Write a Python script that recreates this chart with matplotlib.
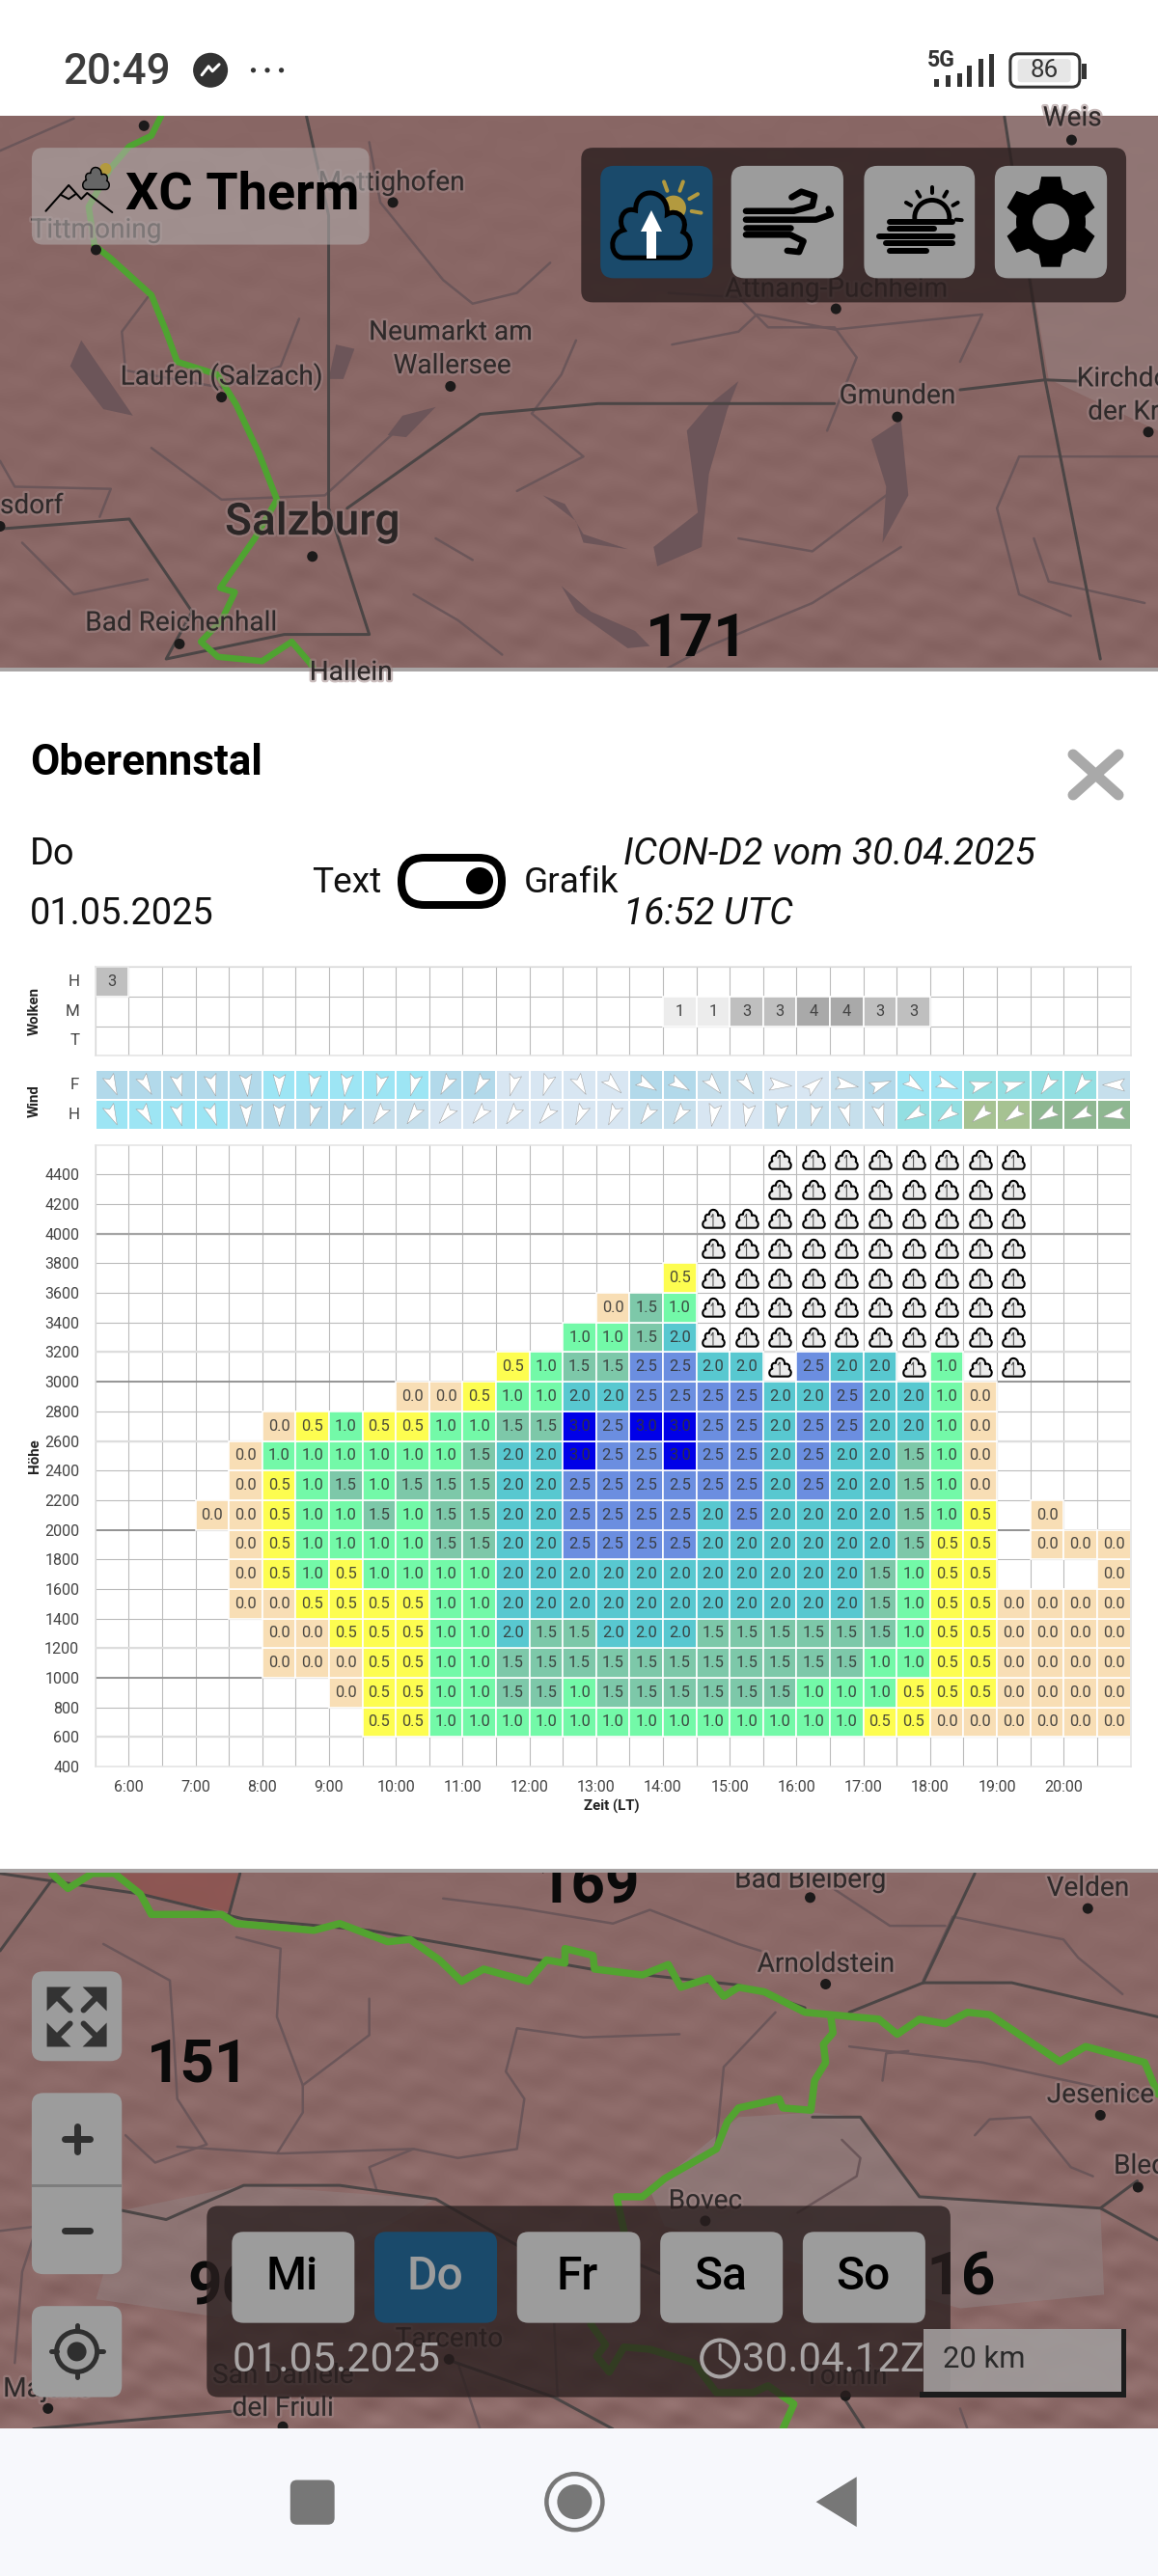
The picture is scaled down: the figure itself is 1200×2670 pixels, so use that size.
import numpy as np
import matplotlib
matplotlib.use("Agg")
import matplotlib.pyplot as plt
from matplotlib.colors import ListedColormap, BoundaryNorm
from matplotlib.patches import FancyBboxPatch, Rectangle, Circle, Polygon, PathPatch
from matplotlib.path import Path
from matplotlib.transforms import Affine2D
import matplotlib.patheffects as pe

plt.rcParams['font.family'] = ['Roboto', 'DejaVu Sans']

# ---------------- DATA ----------------
N = None
C = 'c'   # cloud symbol
hour_ticks = [6, 7, 8, 9, 10, 11, 12, 13, 14, 15, 16, 17, 18, 19, 20]
hour_labels = ['%d:00' % h for h in hour_ticks]
height_ticks = list(range(400, 4401, 200))

cloud_rows = ['H', 'M', 'T']
cloud_H = [3] + [0] * 30
cloud_M = [0] * 17 + [1, 1, 3, 3, 4, 4, 3, 3] + [0] * 6
cloud_T = [0] * 31
cloud_colors = {1: '#ececec', 3: '#bfbfbf', 4: '#a9a9a9'}

wind_rows = ['F', 'H']
wind_F_level = [2, 2, 2, 2, 2, 3, 3, 3, 3, 3, 2, 2, 0, 0, 0, 0, 2, 2, 1, 1, 0, 0, 1, 2, 3, 3, 4, 4, 4, 4, 1]
wind_H_level = [3, 3, 3, 3, 2, 2, 2, 2, 1, 1, 0, 0, 0, 0, 0, 0, 1, 1, 0, 0, 1, 1, 1, 1, 4, 4, 5, 5, 6, 6, 6]
wind_colors = ['#d8e6f2', '#c6dfec', '#b2d9ea', '#9de5f4', '#93dfe2', '#a6c292', '#8eb791']
wind_F_heading = [155, 150, 165, 165, 175, 180, 190, 187, 195, 195, 210, 210, 195, 198, 150, 135, 120, 120, 140, 145, 95, 50, 100, 70, 125, 110, 75, 75, 215, 215, 270]
wind_H_heading = [155, 150, 165, 160, 178, 180, 195, 205, 215, 215, 220, 220, 215, 220, 205, 205, 215, 215, 190, 190, 190, 195, 165, 165, 240, 235, 230, 235, 240, 245, 260]

lift_heights = list(range(600, 4401, 200))
lift_600 = [N]*8 + [.5, .5] + [1]*13 + [.5, .5] + [0]*6
lift_800 = [N]*7 + [0, .5, .5, 1, 1, 1.5, 1.5, 1] + [1.5]*6 + [1, 1, 1, .5, .5, .5, 0, 0, 0, 0]
lift_1000 = [N]*5 + [0, 0, 0, .5, .5, 1, 1] + [1.5]*11 + [1, 1, .5, .5, 0, 0, 0, 0]
lift_1200 = [N]*5 + [0, 0, .5, .5, .5, 1, 1, 2, 1.5, 1.5, 2, 2, 2] + [1.5]*6 + [1, .5, .5, 0, 0, 0, 0]
lift_1400 = [N]*4 + [0, 0, .5, .5, .5, .5, 1, 1] + [2]*11 + [1.5, 1, .5, .5, 0, 0, 0, 0]
lift_1600 = [N]*4 + [0, .5, 1, .5, 1, 1, 1, 1] + [2]*11 + [1.5, 1, .5, .5, N, N, N, 0]
lift_1800 = [N]*4 + [0, .5, 1, 1, 1, 1, 1.5, 1.5, 2, 2, 2.5, 2.5, 2.5, 2.5] + [2]*6 + [1.5, .5, .5, N, 0, 0, 0]
lift_2000 = [N]*3 + [0, 0, .5, 1, 1, 1.5, 1, 1.5, 1.5, 2, 2, 2.5, 2.5, 2.5, 2.5, 2, 2.5, 2, 2, 2, 2, 1.5, 1, .5, N, 0, N, N]
lift_2200 = [N]*4 + [0, .5, 1, 1.5, 1, 1.5, 1.5, 1.5, 2, 2] + [2.5]*6 + [2, 2.5, 2, 2, 1.5, 1, 0] + [N]*4
lift_2400 = [N]*4 + [0, 1, 1, 1, 1, 1, 1, 1.5, 2, 2, 3, 2.5, 2.5, 3, 2.5, 2.5, 2, 2.5, 2, 2, 1.5, 1, 0] + [N]*4
lift_2600 = [N]*5 + [0, .5, 1, .5, .5, 1, 1, 1.5, 1.5, 3, 2.5, 3, 3, 2.5, 2.5, 2, 2.5, 2.5, 2, 2, 1, 0] + [N]*4
lift_2800 = [N]*9 + [0, 0, .5, 1, 1, 2, 2, 2.5, 2.5, 2.5, 2.5, 2, 2, 2.5, 2, 2, 1, 0] + [N]*4
lift_3000 = [N]*12 + [.5, 1, 1.5, 1.5, 2.5, 2.5, 2, 2, C, 2.5, 2, 2, C, 1, C, C] + [N]*3
lift_3200 = [N]*14 + [1, 1, 1.5, 2] + [C]*10 + [N]*3
lift_3400 = [N]*15 + [0, 1.5, 1] + [C]*10 + [N]*3
lift_3600 = [N]*17 + [.5] + [C]*10 + [N]*3
lift_3800 = [N]*18 + [C]*10 + [N]*3
lift_4000 = [N]*18 + [C]*10 + [N]*3
lift_4200 = [N]*20 + [C]*8 + [N]*3
lift_4400 = [N]*20 + [C]*8 + [N]*3
lift_table = [lift_600, lift_800, lift_1000, lift_1200, lift_1400, lift_1600, lift_1800, lift_2000,
              lift_2200, lift_2400, lift_2600, lift_2800, lift_3000, lift_3200, lift_3400, lift_3600,
              lift_3800, lift_4000, lift_4200, lift_4400]
lift_colors = {0: '#f8deb5', .5: '#fdfd50', 1: '#73f9a8', 1.5: '#7dc8a9', 2: '#58c8d0', 2.5: '#6b8ee0', 3: '#0000e8'}

# ---------------- FIGURE ----------------
W, H = 1200, 2670
fig = plt.figure(figsize=(W / 100, H / 100), dpi=100, facecolor='white')
PX = 0.72  # points per pixel

def make_axes(x0, y0, x1, y1, z):
    return fig.add_axes([x0 / W, 1 - y1 / H, (x1 - x0) / W, (y1 - y0) / H], zorder=z)

bg = make_axes(0, 0, W, H, 0)
fg = make_axes(0, 0, W, H, 5)
fg.patch.set_alpha(0)

def Z1(pts):
    return [(x / 1.3067, y / 2.24) for x, y in pts]

def Z2(pts):
    return [(x / 1.3067, 1930 + y * 0.472) for x, y in pts]

def shade(ax, y0, y1, base, amp):
    yy, xx = np.mgrid[y0:y1:2, 0:W:2]
    t = (np.sin(xx * 0.07 + yy * 0.13) + np.sin(xx * 0.031 - yy * 0.19 + 1.0)
         + 0.7 * np.sin(xx * 0.15 - yy * 0.09 + 2.0) * np.sin(yy * 0.21))
    t = t * np.clip((yy - y0) / (y1 - y0) * 0.9 + 0.2, 0, 1.2)
    rgb = np.clip(np.dstack([(base[i] + amp * t) / 255.0 for i in range(3)]), 0, 1)
    ax.imshow(rgb, extent=(0, W, y1, y0), aspect='auto', interpolation='bilinear', zorder=0)

shade(bg, 120, 694, (137, 103, 101), 2.2)
shade(bg, 1941, 2517, (139, 105, 103), 4.0)
bg.set_xlim(0, W); bg.set_ylim(H, 0); bg.axis('off')
fg.set_xlim(0, W); fg.set_ylim(H, 0); fg.axis('off')

def line(ax, pts, color, lw, z=2, alpha=1.0):
    xs, ys = zip(*pts)
    ax.plot(xs, ys, color=color, lw=lw * PX, zorder=z, alpha=alpha, solid_capstyle='round', solid_joinstyle='round')

def poly(ax, pts, color, z=1.5, alpha=1.0):
    ax.add_patch(Polygon(pts, closed=True, fc=color, ec='none', zorder=z, alpha=alpha))

def rbox(ax, x0, y0, x1, y1, r, color, z=3, alpha=1.0, ec='none', lw=0):
    ax.add_patch(FancyBboxPatch((x0 + r, y0 + r), x1 - x0 - 2 * r, y1 - y0 - 2 * r,
                                boxstyle='round,pad=%f,rounding_size=%f' % (r, r),
                                fc=color, ec=ec, lw=lw, zorder=z, alpha=alpha))

def txt(ax, x, y, s, px, color='#222222', ha='center', va='center', weight='normal', z=4, halo=False, **kw):
    t = ax.text(x, y, s, fontsize=px * PX, color=color, ha=ha, va=va, fontweight=weight, zorder=z, clip_on=True, **kw)
    if halo:
        t.set_path_effects([pe.withStroke(linewidth=3.5, foreground=(0.62, 0.52, 0.52, 0.55))])
    return t

ROAD = '#4b4545'
BORD = '#6b5659'
LAKE = '#6c5559'
GREEN = '#4fa331'
LABEL_PX = 28

# ---- map 1 ----
m1_thin = [
    [(0, 350), (100, 275)], [(500, 330), (515, 470), (600, 650), (640, 705), (700, 680), (745, 610)],
    [(405, 740), (380, 850), (300, 900), (170, 860), (165, 770), (200, 690)],
    [(0, 1070), (20, 1130), (150, 1135), (135, 1200)], [(205, 1040), (300, 1160), (440, 1150), (530, 1010)],
    [(780, 790), (760, 870), (720, 960), (790, 1060), (700, 1140)],
    [(905, 680), (1000, 690), (1040, 760), (1130, 760), (1160, 830), (1120, 1000)],
    [(910, 800), (1000, 770), (1025, 730), (1130, 765), (1330, 730), (1300, 840)],
    [(1570, 1060), (1380, 1060), (1350, 1180), (1380, 1380), (1450, 1430)],
    [(1220, 1270), (1100, 1400), (960, 1500), (900, 1555)], [(560, 1380), (620, 1440), (680, 1520)],
    [(1400, 1250), (1420, 1350), (1550, 1400)], [(30, 1260), (100, 1380), (200, 1345)],
    [(590, 1250), (640, 1300)], [(1000, 1250), (1100, 1280), (1200, 1150)],
]
for p in m1_thin:
    line(bg, Z1(p), BORD, 2.5, z=1.8)
for p in [[(1000, 885), (960, 940), (930, 1000), (945, 1190), (885, 1270), (890, 1315), (950, 1270), (960, 1100), (985, 950)],
          [(1220, 975), (1180, 1020), (1200, 1130), (1195, 1260), (1230, 1150)],
          [(735, 1150), (780, 1210), (790, 1260), (850, 1275), (790, 1240), (765, 1170)],
          [(590, 945), (545, 965), (525, 1010), (550, 1015)],
          [(760, 1360), (780, 1420), (850, 1505), (880, 1500), (860, 1465), (800, 1420)],
          [(110, 790), (95, 850), (140, 950), (180, 965), (150, 890)],
          [(455, 800), (480, 810), (465, 880), (445, 880)]]:
    poly(bg, Z1(p), LAKE)
poly(bg, Z1([(1360, 270), (1568, 270), (1568, 1000), (1420, 880)]), '#96807f', z=1.2, alpha=0.6)
for p in [[(415, 270), (445, 500), (445, 1180), (500, 1473), (385, 1473), (225, 1530), (260, 1420), (175, 1205), (0, 1228)],
          [(470, 1180), (650, 962), (810, 937), (1130, 937)], [(1300, 905), (1415, 882), (1460, 885)],
          [(1360, 270), (1415, 880), (1490, 1530)]]:
    line(bg, Z1(p), ROAD, 3, z=2)
line(bg, Z1([(218, 270), (205, 315), (175, 340), (150, 390), (120, 480), (128, 570), (150, 600), (205, 685), (225, 770), (240, 840),
             (295, 870), (320, 940), (350, 1050), (375, 1160), (345, 1250), (298, 1365), (318, 1375), (300, 1440), (272, 1490),
             (295, 1525), (355, 1535), (395, 1490), (420, 1540), (425, 1555)]), GREEN, 6.5, z=2.5)
for x, y in Z1([(195, 292), (130, 580), (532, 470), (1132, 717), (300, 922), (610, 897), (1215, 968), (1555, 1003), (423, 1292), (243, 1495), (1451, 325), (0, 1222)]):
    bg.add_patch(Circle((x, y), 5.5, fc='#1c1a1a', ec='none', zorder=3))
m1_labels = [('Mattighofen', 530, 425), ('Tittmoning', 130, 535), ('Attnang-Puchheim', 1132, 672), ('Neumarkt am', 610, 772),
             ('Wallersee', 612, 850), ('Laufen (Salzach)', 300, 875), ('Gmunden', 1215, 920),
             ('Bad Reichenhall', 245, 1447), ('Hallein', 475, 1562), ('Weis', 1452, 275)]
for s, x, y in m1_labels:
    txt(bg, x / 1.3067, y / 2.24, s, LABEL_PX, color='#2f2a2a', halo=True)
txt(bg, 1458 / 1.3067, 880 / 2.24, 'Kirchdorf', LABEL_PX, color='#2f2a2a', ha='left', halo=True)
txt(bg, 1473 / 1.3067, 957 / 2.24, 'der Krems', LABEL_PX, color='#2f2a2a', ha='left', halo=True)
txt(bg, 0, 1175 / 2.24, 'sdorf', LABEL_PX, color='#2f2a2a', ha='left', halo=True)
txt(bg, 423 / 1.3067, 1212 / 2.24, 'Salzburg', 46, color='#2b2626', weight='medium', halo=True)
txt(bg, 722, 663, '171', 62, color='#0a0a0a', weight='bold')
bg.add_patch(Rectangle((0, 0), W, 120, fc='white', ec='none', zorder=3.5))

def cloud_path():
    v = [(-0.7, -0.8), (0.7, -0.8),
         (1.0, -0.8), (1.1, -0.3), (0.8, -0.15),
         (0.95, 0.2), (0.65, 0.45), (0.4, 0.3),
         (0.45, 0.95), (-0.4, 1.05), (-0.4, 0.4),
         (-0.75, 0.5), (-0.85, 0.1), (-0.7, -0.1),
         (-1.1, -0.2), (-1.05, -0.8), (-0.7, -0.8), (-0.7, -0.8)]
    c = [Path.MOVETO, Path.LINETO] + [Path.CURVE4] * 15 + [Path.CLOSEPOLY]
    return Path(v, c)

CLOUD = cloud_path()
ARROW_UP = Path([(0, -0.55), (0, 0.55), (-0.18, 0.28), (0, 0.55)],
                [Path.MOVETO, Path.LINETO, Path.MOVETO, Path.LINETO])

def icon_cloud(ax, cx, cy, s, fc, lw, z):
    p = Affine2D().scale(s).translate(cx, cy).transform_path(Path(CLOUD.vertices * [1, -1], CLOUD.codes))
    ax.add_patch(PathPatch(p, fc=fc, ec='black', lw=lw * PX, zorder=z))

# logo
rbox(fg, 43 / 1.3067, 343 / 2.24, 500 / 1.3067, 568 / 2.24, 12, '#b0aaaa', z=1, alpha=0.6)
txt(fg, 170 / 1.3067, 452 / 2.24, 'XC Therm', 54, color='black', ha='left', weight='bold')
line(fg, Z1([(62, 490), (93, 430), (110, 462), (118, 448), (152, 493)]), 'black', 2)
line(fg, Z1([(82, 452), (93, 462), (103, 450)]), 'black', 2)
fg.add_patch(Circle((143 / 1.3067, 392 / 2.24), 6, fc='#b39a3f', ec='none', zorder=2.9))
icon_cloud(fg, 130 / 1.3067, 415 / 2.24, 14, '#666666', 1.5, 3)

# toolbar
rbox(fg, 787 / 1.3067, 343 / 2.24, 1525 / 1.3067, 702 / 2.24, 12, '#2c2020', z=1, alpha=0.82)
for xa, xb, col in [(813, 965, '#1a4a6b'), (990, 1142, '#9c9c9c'), (1170, 1320, '#9c9c9c'), (1347, 1499, '#9c9c9c')]:
    rbox(fg, xa / 1.3067, 385 / 2.24, xb / 1.3067, 646 / 2.24, 14, col, z=2)

# weather buttons
sx, sy = (912 / 1.3067, 483 / 2.24)
fg.add_patch(Circle((sx, sy), 13, fc='#b39a3f', ec='none', zorder=3))
for a in range(-60, 140, 40):
    r = np.deg2rad(a)
    line(fg, [(sx + 19 * np.sin(r), sy - 19 * np.cos(r)), (sx + 29 * np.sin(r), sy - 29 * np.cos(r))], '#b39a3f', 4, z=3)
icon_cloud(fg, 882 / 1.3067, 525 / 2.24, 41, '#1a4a6b', 5, 3.2)
poly(fg, [(675, 218), (664, 240), (670, 240), (670, 268), (680, 268), (680, 240), (686, 240)], 'white', z=3.5)
for pts in [[(1010, 490), (1075, 490), (1100, 478), (1103, 455), (1085, 445), (1072, 458)],
            [(1010, 510), (1105, 510), (1125, 498), (1122, 485)],
            [(1010, 528), (1070, 528)],
            [(1010, 545), (1070, 545), (1088, 560), (1082, 585), (1066, 582)]]:
    line(fg, Z1(pts), 'black', 6.5, z=3)
# sun and fog
cx, cy = 1262 / 1.3067, 505 / 2.24
fg.add_patch(Circle((cx, cy), 18, fc='none', ec='black', lw=3.5, zorder=3))
fg.add_patch(Rectangle((1190 / 1.3067, 515 / 2.24), 82, 40, fc='#9c9c9c', ec='none', zorder=3.05))
for xa, xb, yy in [(1205, 1290, 515), (1190, 1290, 548), (1200, 1290, 565), (1205, 1255, 583), (1205, 1265, 532)]:
    line(fg, Z1([(xa, yy), (xb, yy)]), 'black', 6, z=3.1)
for a in [-60, -30, 0, 30, 60, 95]:
    r = np.deg2rad(a)
    line(fg, [(cx + 25 * np.sin(r), cy - 25 * np.cos(r)), (cx + 31 * np.sin(r), cy - 31 * np.cos(r))], 'black', 4, z=3.1)
# gear
gx, gy = 1423 / 1.3067, 515 / 2.24
for a in np.deg2rad(np.arange(0, 360, 60)):
    fg.add_patch(Polygon([(gx + 30 * np.sin(a + d), gy - 30 * np.cos(a + d)) for d in (-0.45, 0.45)]
                         + [(gx + 47 * np.sin(a + d), gy - 47 * np.cos(a + d)) for d in (0.2, -0.2)], fc='black', ec='black', zorder=3))
fg.add_patch(Circle((gx, gy), 36, fc='black', ec='none', zorder=3))
fg.add_patch(Circle((gx, gy), 19, fc='#9c9c9c', ec='none', zorder=3.2))

# status bar
txt(bg, 65, 75, '20:49', 44, color='#3c3c3c', ha='left', z=4, weight='medium')
msg = (285 / 1.3067, 163 / 2.24)
bg.add_patch(Circle(msg, 18, fc='#333333', ec='none', zorder=4))
line(bg, [(msg[0] - 9, msg[1] + 5), (msg[0] - 2, msg[1] - 4), (msg[0] + 2, msg[1] + 1), (msg[0] + 9, msg[1] - 6)], 'white', 3, z=4.2)
for dx in (343, 362, 381):
    bg.add_patch(Circle((dx / 1.3067, 163 / 2.24), 2.6, fc='#333333', ec='none', zorder=4))
txt(bg, 1274 / 1.3067, 140 / 2.24, '5G', 23, color='#333333', weight='bold')
for xb, hb in zip([1268, 1284, 1299, 1313, 1328, 1343], [8, 12, 14, 22, 29, 34]):
    bg.add_patch(Rectangle((xb / 1.3067 - 2.5, 201 / 2.24 - hb), 5, hb, fc='#333333', ec='none', zorder=4))
rbox(bg, 1368 / 1.3067, 125 / 2.24, 1462 / 1.3067, 202 / 2.24, 8, 'white', z=4, ec='#333333', lw=3 * PX)
rbox(bg, 1378 / 1.3067, 137 / 2.24, 1450 / 1.3067, 191 / 2.24, 4, '#e6e6e6', z=4.1)
txt(bg, 1414 / 1.3067, 164 / 2.24, '86', 26, color='#333333', z=4.2)
bg.add_patch(Rectangle((1465 / 1.3067, 148 / 2.24), 5, 16, fc='#333333', ec='none', zorder=4))

# sheet
bg.add_patch(Rectangle((0, 694), W, 1245, fc='white', ec='none', zorder=3.6))
bg.add_patch(Rectangle((0, 692), W, 4, fc='#a9a5a5', ec='none', zorder=3.7))
bg.add_patch(Rectangle((0, 1937), W, 4, fc='#a9a5a5', ec='none', zorder=3.7))
txt(bg, 31, 791, 'Oberennstal', 44, color='black', ha='left', weight='bold', z=4)
txt(bg, 31, 885, 'Do', 38, color='#111111', ha='left', z=4)
txt(bg, 31, 948, '01.05.2025', 38, color='#111111', ha='left', z=4)
txt(bg, 323, 915, 'Text', 37, color='#111111', ha='left', z=4)
txt(bg, 543, 915, 'Grafik', 37, color='#111111', ha='left', z=4)
txt(bg, 646, 885, 'ICON-D2 vom 30.04.2025', 39, color='#111111', ha='left', style='italic', z=4)
txt(bg, 646, 948, '16:52 UTC', 39, color='#111111', ha='left', style='italic', z=4)
rbox(bg, 416, 889, 520, 938, 24, 'white', z=4, ec='black', lw=8 * PX)
bg.add_patch(Circle((497, 913), 14, fc='black', ec='none', zorder=4.2))
for a, b in [((1112, 782), (1159, 824)), ((1159, 782), (1112, 824))]:
    line(bg, [a, b], '#a9a9a9', 11, z=4)

# ---- map 2 ----
poly(bg, Z2([(155, 25), (325, 25), (310, 110), (200, 75)]), '#8e4f4b', z=1.2, alpha=0.7)
poly(bg, Z2([(1000, 560), (1100, 550), (1165, 560), (1245, 735), (1490, 760), (1495, 950), (1300, 980), (900, 800), (880, 720)]), '#908080', z=1.2, alpha=0.6)
poly(bg, Z2([(165, 765), (330, 710), (590, 740), (300, 1000), (130, 960)]), '#908080', z=1.2, alpha=0.5)
m2_thin = [
    [(140, 180), (230, 260), (235, 380), (240, 520), (280, 620), (210, 660), (170, 600)],
    [(320, 165), (380, 190), (375, 340), (410, 490), (410, 550), (375, 640)],
    [(500, 300), (500, 380), (410, 490)], [(920, 378), (790, 385), (700, 365), (685, 460), (710, 520), (700, 630), (620, 650), (560, 630), (380, 640), (240, 625)],
    [(600, 80), (700, 100), (830, 135), (880, 105), (1000, 180), (1030, 195)], [(1150, 405), (1330, 440), (1560, 520)],
    [(1050, 330), (980, 450), (970, 620)], [(1320, 600), (1340, 565), (1395, 560), (1450, 670), (1480, 690)],
    [(1130, 60), (1205, 140), (1280, 140)], [(1250, 260), (1290, 120), (1440, 170), (1460, 210), (1520, 290)],
    [(1195, 480), (1200, 420), (1230, 415)], [(510, 720), (500, 670), (560, 630)], [(1140, 610), (1165, 650), (1160, 690), (1080, 770)],
    [(0, 810), (50, 800), (30, 900), (20, 1100)], [(620, 1100), (650, 1245)], [(750, 1000), (755, 1175)], [(1310, 1245), (1300, 1200)],
]
for p in m2_thin:
    line(bg, Z2(p), BORD, 2.5, z=1.8)
for p in [[(0, 25), (190, 70), (330, 125), (500, 150), (800, 235), (1000, 270), (1090, 320)], [(325, 25), (310, 115)],
          [(1250, 265), (1370, 265), (1568, 340)], [(1250, 265), (1320, 25)], [(1250, 265), (1150, 330)], [(0, 195), (70, 40)],
          [(1100, 560), (1165, 560), (1245, 735), (1490, 760), (1568, 830)], [(1490, 760), (1540, 700)],
          [(165, 765), (225, 785), (330, 710), (460, 710), (590, 740), (720, 860), (860, 880), (960, 950)], [(45, 1245), (320, 1205)],
          [(610, 1095), (750, 1175), (830, 1245)], [(1140, 1170), (1170, 1245)]]:
    line(bg, Z2(p), ROAD, 3, z=2)
line(bg, Z2([(70, 25), (92, 58), (125, 25), (155, 25), (190, 70), (205, 115), (300, 115), (320, 135), (425, 150), (460, 135), (525, 175), (555, 170),
             (595, 215), (625, 262), (655, 235), (715, 262), (740, 215), (765, 222), (765, 190), (803, 205), (805, 235), (870, 248), (905, 225),
             (922, 275), (960, 255), (980, 295), (1000, 275), (1035, 285), (1090, 330), (1190, 345), (1215, 378), (1245, 345), (1280, 355),
             (1310, 330), (1340, 335), (1435, 438), (1470, 405), (1550, 440), (1568, 510)]), '#52a330', 7.5, z=2.5)
line(bg, Z2([(1125, 340), (1128, 375), (1115, 400), (1118, 440), (1103, 480), (1098, 545), (1060, 540), (1055, 520), (1000, 540), (985, 570), (970, 630),
             (900, 695), (870, 735), (835, 735), (845, 810), (800, 1015), (820, 1060), (808, 1085), (825, 1120), (845, 1065), (880, 1070), (940, 1100),
             (970, 1165), (1020, 1165), (1040, 1150), (1075, 1190), (1060, 1245)]), '#52a330', 7.5, z=2.5)
for x, y in Z2([(1097, 78), (1473, 102), (1118, 268), (1490, 556), (1541, 714), (955, 788), (608, 1092), (383, 1240), (1145, 1172), (65, 1200)]):
    bg.add_patch(Circle((x, y), 5.5, fc='#1c1a1a', ec='none', zorder=3))
for s, x, y in [('Bad Bleiberg', 1097, 40), ('Velden', 1473, 58), ('Arnoldstein', 1118, 225), ('Jesenice', 1490, 512), ('Bovec', 955, 745),
                ('Tarcento', 608, 1048), ('San Daniele', 383, 1128), ('del Friuli', 383, 1200), ('Tolmin', 1145, 1130), ('Majano', 65, 1158)]:
    x2, y2 = Z2([(x, y)])[0]
    txt(bg, x2, y2, s, LABEL_PX, color='#2f2a2a', halo=True, z=3)
txt(bg, 1508 / 1.3067, Z2([(0, 668)])[0][1], 'Bled', LABEL_PX, color='#2f2a2a', ha='left', halo=True, z=3)
for s, x, y in [('169', 797, 55), ('151', 268, 447), ('96', 300, 935), ('116', 1280, 915)]:
    x2, y2 = Z2([(x, y)])[0]
    txt(bg, x2, y2, s, 62, color='#0a0a0a', weight='bold', z=3)
bg.add_patch(Rectangle((0, 2517), W, 153, fc='#f7f8fc', ec='none', zorder=3.6))
bg.add_patch(Rectangle((0, 1930), W, 8, fc='white', ec='none', zorder=3.6))

BTN = '#9c9c9c'
def zx(x): return x / 1.3067
def zy(y): return 1930 + y * 0.472

rbox(fg, zx(43), zy(240), zx(165), zy(437), 12, BTN)
rbox(fg, zx(43), zy(507), zx(165), zy(905), 12, BTN)
rbox(fg, zx(43), zy(975), zx(165), zy(1175), 12, BTN)
fg.add_patch(Rectangle((zx(43), zy(708)), zx(165) - zx(43), 2.5, fc='#7d7d7d', ec='none', zorder=3.2))
bcx, bcy = zx(104), zy(340)
for sxx, syy in [(-1, -1), (1, -1), (-1, 1), (1, 1)]:
    poly(fg, [(bcx + sxx * 31, bcy + syy * 31), (bcx + sxx * 6, bcy + syy * 31), (bcx + sxx * 31, bcy + syy * 6)], '#333333', z=3.5)
    line(fg, [(bcx + sxx * 24, bcy + syy * 24), (bcx + sxx * 7, bcy + syy * 7)], '#333333', 6, z=3.5)
line(fg, [(bcx - 13, zy(607)), (bcx + 13, zy(607))], '#2f2f2f', 7, z=3.5)
line(fg, [(bcx, zy(607) - 13), (bcx, zy(607) + 13)], '#2f2f2f', 7, z=3.5)
line(fg, [(bcx - 13, zy(810)), (bcx + 13, zy(810))], '#2f2f2f', 7, z=3.5)
fg.add_patch(Circle((bcx, zy(1075)), 21, fc='none', ec='#2f2f2f', lw=5 * PX, zorder=3.5))
fg.add_patch(Circle((bcx, zy(1075)), 10, fc='#2f2f2f', ec='none', zorder=3.5))
line(fg, [(bcx, zy(1075) - 27), (bcx, zy(1075) - 21)], '#2f2f2f', 5, z=3.5)
line(fg, [(bcx, zy(1075) + 27), (bcx, zy(1075) + 21)], '#2f2f2f', 5, z=3.5)
line(fg, [(bcx - 27, zy(1075)), (bcx - 21, zy(1075))], '#2f2f2f', 5, z=3.5)
line(fg, [(bcx + 27, zy(1075)), (bcx + 21, zy(1075))], '#2f2f2f', 5, z=3.5)

rbox(fg, zx(280), zy(755), zx(1287), zy(1175), 12, '#2a1f1f', z=1, alpha=0.78)
for s, xa, xb, col, tc in [('Mi', 314, 480, BTN, 'black'), ('Do', 507, 673, '#1a4a6b', '#9c9c9c'), ('Fr', 700, 867, BTN, 'black'),
                           ('Sa', 894, 1060, BTN, 'black'), ('So', 1087, 1253, BTN, 'black')]:
    rbox(fg, zx(xa), zy(812), zx(xb), zy(1012), 12, col, z=2)
    txt(fg, zx((xa + xb) / 2) - 1, zy(910), s, 48, color=tc, weight='medium')
txt(fg, zx(315), zy(1095), '01.05.2025', 43, color='#a8a4a4', ha='left')
fg.add_patch(Circle((zx(975), zy(1090)), 19, fc='none', ec='#a8a4a4', lw=4 * PX, zorder=3))
line(fg, [(zx(975), zy(1060)), (zx(975), zy(1090)), (zx(990), zy(1110))], '#a8a4a4', 3, z=3)
txt(fg, zx(1005), zy(1095), '30.04.12Z', 42, color='#a8a4a4', ha='left')
fg.add_patch(Rectangle((zx(1250), zy(1025)), zx(1525) - zx(1250), zy(1175) - zy(1025), fc='#9f9a9a', ec='none', alpha=0.92, zorder=3))
fg.add_patch(Rectangle((zx(1518), zy(1025)), 5.5, zy(1175) - zy(1025), fc='#1c1c1c', ec='none', zorder=3.1))
fg.add_patch(Rectangle((zx(1250) - 4, zy(1163)), zx(1525) - zx(1250) + 4, 6, fc='#1c1c1c', ec='none', zorder=3.1))
txt(fg, zx(1277), zy(1093), '20 km', 31, color='#2a2a2a', ha='left')

# nav
rbox(bg, zx(393), zy(1357), zx(453), zy(1455), 7, '#777777', z=4)
bg.add_patch(Circle((zx(778), zy(1405)), 29, fc='none', ec='#777777', lw=4.5 * PX, zorder=4))
bg.add_patch(Circle((zx(778), zy(1405)), 18, fc='#777777', ec='none', zorder=4))
poly(bg, [(zx(1160), zy(1350)), (zx(1160), zy(1460)), (zx(1105), zy(1405))], '#777777', z=4)

# ---------------- CHART ----------------
x_left, x_right = 98.8, 1171.5
x_edges = np.arange(5.5, 21.01, 0.5)
label_dx = 16.5 / (x_right - x_left) * 15.5

def style_panel(ax, yticks):
    ax.set_xlim(5.5, 21)
    ax.set_xticks(x_edges)
    ax.set_yticks(yticks)
    ax.grid(True, color='#bbbbbb', lw=1.1 * PX)
    ax.set_axisbelow(True)
    ax.tick_params(length=0, labelbottom=False)
    for s in ax.spines.values():
        s.set_color('#e2e2e2'); s.set_linewidth(1.5 * PX)

# clouds panel
ax_c = make_axes(x_left, 1002.3, x_right, 1094.3, 3)
style_panel(ax_c, [0, 1, 2, 3])
ax_c.set_ylim(3, 0)
ax_c.set_yticklabels([])
for r, row in enumerate([cloud_H, cloud_M, cloud_T]):
    for c, v in enumerate(row):
        if v:
            ax_c.bar(5.75 + 0.5 * c, 1, width=0.5, bottom=r, color=cloud_colors[v], edgecolor='white', linewidth=1.6 * PX, zorder=2)
            ax_c.text(5.75 + 0.5 * c, r + 0.5, str(v), ha='center', va='center', fontsize=16.5 * PX, color='#444444', zorder=3)
    ax_c.text(5.5 - label_dx, r + 0.5, cloud_rows[r], ha='right', va='center', fontsize=17 * PX, color='#444444', clip_on=False)
fig.text(36 / W, 1 - 1048 / H, 'Wolken', rotation=90, ha='center', va='center', fontsize=15 * PX, fontweight='bold', color='#222222', zorder=6)

# wind panel
ax_w = make_axes(x_left, 1109, x_right, 1171, 3)
ax_w.set_xlim(5.5, 21); ax_w.set_ylim(2, 0); ax_w.axis('off')
wcmap = ListedColormap(wind_colors)
ax_w.pcolormesh(x_edges, np.arange(3), np.array([wind_F_level, wind_H_level], float), cmap=wcmap,
                norm=BoundaryNorm(np.arange(-0.5, 7), wcmap.N), edgecolors='white', linewidth=1.6 * PX, zorder=2)
DART = Path([(0, 1), (0.54, -0.9), (0.02, -0.55), (-0.54, -0.9), (0, 1)], closed=True)
for r, headings in enumerate([wind_F_heading, wind_H_heading]):
    for c, h in enumerate(headings):
        m = Affine2D().rotate_deg(-h).transform_path(DART)
        ax_w.scatter([5.75 + 0.5 * c], [r + 0.5], marker=m, s=300, fc='white', ec='#9a9a9a', lw=0.35, zorder=3)
    ax_w.text(5.5 - label_dx, r + 0.5, wind_rows[r], ha='right', va='center', fontsize=17 * PX, color='#444444', clip_on=False)
fig.text(36 / W, 1 - 1141 / H, 'Wind', rotation=90, ha='center', va='center', fontsize=15 * PX, fontweight='bold', color='#222222', zorder=6)

# lift panel
ax_m = make_axes(x_left, 1186.7, x_right, 1831, 3)
style_panel(ax_m, height_ticks)
ax_m.set_ylim(400, 4600)
ax_m.set_yticklabels([str(h) for h in height_ticks], fontsize=16 * PX, color='#444444')
ax_m.tick_params(axis='y', pad=16.5 * PX)
for h, col, w in [(1000, '#8f8f8f', 1.8), (2000, '#8f8f8f', 1.8), (3000, '#8f8f8f', 1.8), (4000, '#a5a5a5', 2.2)]:
    ax_m.axhline(h, color=col, lw=w * PX, zorder=1.5)
for h in [600, 1200, 2600, 3200]:
    ax_m.axhline(h, color='#dddddd', lw=2.2 * PX, zorder=1.5)
for r, row in enumerate(lift_table):
    yc = lift_heights[r] + 100
    for c, v in enumerate(row):
        xc = 5.75 + 0.5 * c
        if v is None:
            continue
        if v == C:
            ax_m.scatter([xc], [yc], marker=CLOUD, s=330, fc='#ebebeb', ec='black', lw=1.5, zorder=3)
            ax_m.scatter([xc], [yc - 12], marker=ARROW_UP, s=95, fc='none', ec='#555555', lw=0.8, zorder=3.1)
        else:
            ax_m.bar(xc, 200, width=0.5, bottom=lift_heights[r], color=lift_colors[v], edgecolor='white', linewidth=1.6 * PX, zorder=2)
            ax_m.text(xc, yc, '%.1f' % v, ha='center', va='center', fontsize=16.5 * PX, color='#333333', alpha=0.88, zorder=3)
label_dy = 14 / (1831 - 1186.7) * 4200
for h, lab in zip(hour_ticks, hour_labels):
    ax_m.text(h, 400 - label_dy, lab, ha='center', va='top', fontsize=16 * PX, color='#444444', clip_on=False)
fig.text(634 / W, 1 - 1872 / H, 'Zeit (LT)', ha='center', va='center', fontsize=15 * PX, fontweight='bold', color='#222222', zorder=6)
fig.text(36 / W, 1 - 1509 / H, 'Höhe', rotation=90, ha='center', va='center', fontsize=15 * PX, fontweight='bold', color='#222222', zorder=6)

fig.savefig('out.png', dpi=100, facecolor='white')
